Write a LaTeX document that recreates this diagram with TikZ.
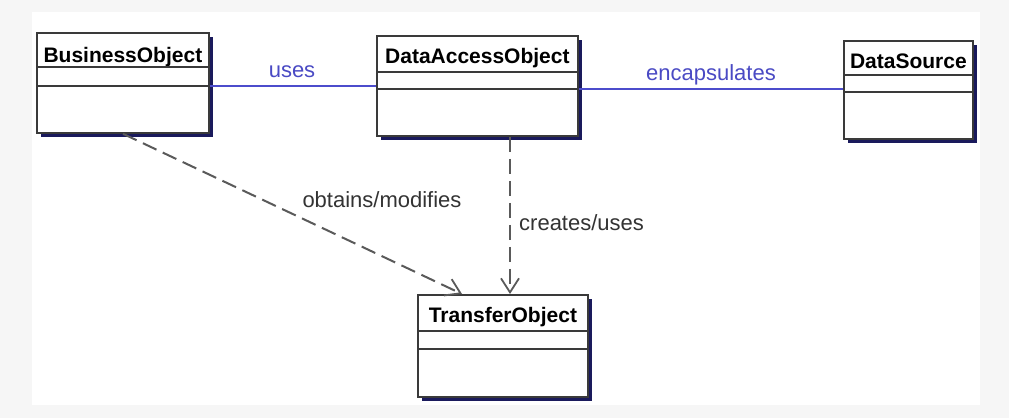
\documentclass[tikz,border=0pt]{standalone}
\usepackage{fontspec}
\setmainfont{Liberation Sans}
\usetikzlibrary{arrows.meta,shadows}
\definecolor{shadowblue}{HTML}{1A1A5C}
\definecolor{boxgray}{HTML}{3A3A3A}
\definecolor{assocblue}{HTML}{4C4CCC}
\definecolor{labelblue}{HTML}{4A4AC4}
\definecolor{dashgray}{HTML}{5A5A5A}
\definecolor{bgpat}{HTML}{F6F6F6}
\tikzset{
  cls/.style={draw=boxgray, line width=1.8pt, fill=white, inner sep=0pt,
    drop shadow={shadow xshift=4.5pt, shadow yshift=-4.5pt, fill=shadowblue, opacity=1}},
  clsname/.style={font=\fontsize{21}{24}\selectfont\bfseries, text=black, inner sep=0pt, anchor=base},
  sep/.style={draw=boxgray, line width=1.5pt},
  assoc/.style={draw=assocblue, line width=1.8pt},
  alabel/.style={font=\fontsize{22}{25}\selectfont, text=labelblue, inner sep=0pt, anchor=base},
  dlabel/.style={font=\fontsize{22}{25}\selectfont, text=black!80, inner sep=0pt, anchor=base},
  dep/.style={draw=dashgray, line width=2pt, dash pattern=on 15pt off 7pt,
    -{Straight Barb[length=14pt,width=18pt,line width=1.8pt]}}
}
\begin{document}
\begin{tikzpicture}[x=1pt,y=-1pt]
\useasboundingbox (0,0) rectangle (1009,418);
\fill[bgpat] (0,0) rectangle (1009,418);
\fill[white] (32,12) rectangle (980,405);

% BusinessObject
\node[cls, minimum width=172pt, minimum height=100pt, anchor=north west] (bo) at (36,32) {};
\node[clsname] (boname) at ([yshift=-30pt]bo.north) {BusinessObject};
\draw[sep] ([yshift=-35pt]bo.north west) -- ([yshift=-35pt]bo.north east);
\draw[sep] ([yshift=-54pt]bo.north west) -- ([yshift=-54pt]bo.north east);

% DataAccessObject
\node[cls, minimum width=201pt, minimum height=100pt, anchor=north west] (dao) at (376,35) {};
\node[clsname] (daoname) at ([yshift=-28pt]dao.north) {DataAccessObject};
\draw[sep] ([yshift=-37pt]dao.north west) -- ([yshift=-37pt]dao.north east);
\draw[sep] ([yshift=-54pt]dao.north west) -- ([yshift=-54pt]dao.north east);

% DataSource
\node[cls, minimum width=129pt, minimum height=98pt, anchor=north west] (ds) at (843,40) {};
\node[clsname] (dsname) at ([yshift=-28pt]ds.north) {DataSource};
\draw[sep] ([yshift=-35pt]ds.north west) -- ([yshift=-35pt]ds.north east);
\draw[sep] ([yshift=-52pt]ds.north west) -- ([yshift=-52pt]ds.north east);

% TransferObject
\node[cls, minimum width=170pt, minimum height=102pt, anchor=north west] (to) at (417,294) {};
\node[clsname] (toname) at ([yshift=-28pt]to.north) {TransferObject};
\draw[sep] ([yshift=-37pt]to.north west) -- ([yshift=-37pt]to.north east);
\draw[sep] ([yshift=-55pt]to.north west) -- ([yshift=-55pt]to.north east);

% associations
\coordinate (usesy) at (0,86);
\coordinate (ency) at (0,89);
\draw[assoc] (bo.east |- usesy) -- (dao.west |- usesy);
\node[alabel] (useslbl) at (292,77) {uses};
\draw[assoc] (dao.east |- ency) -- (ds.west |- ency);
\node[alabel] (enclbl) at (711,80) {encapsulates};

% dependencies
\coordinate (boStart) at (123,135);
\coordinate (toTipA) at (462,293);
\coordinate (daoX) at (510,0);
\draw[dep] (bo.south -| boStart) -- (to.north -| toTipA);
\draw[dep] (dao.south -| daoX) -- (to.north -| daoX);
\node[dlabel] (oblbl) at (382,207) {obtains/modifies};
\node[dlabel, anchor=base west] (crlbl) at (519,230) {creates/uses};
\end{tikzpicture}
\end{document}
